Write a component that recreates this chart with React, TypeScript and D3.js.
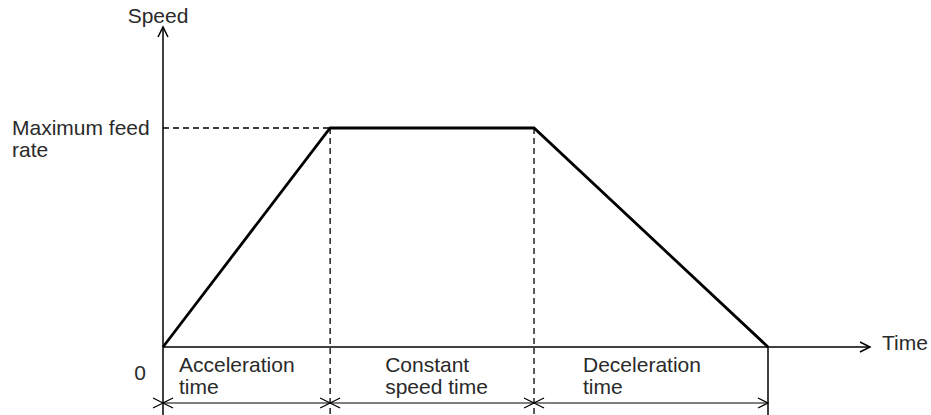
import React from "react";
import * as d3 from "d3";

// phases of the move (time units are relative)
const phaseNames = ["Acceleration", "Constant", "Deceleration"];
const phaseLabels = [
  ["Acceleration", "time"],
  ["Constant", "speed time"],
  ["Deceleration", "time"],
];
const phaseDurations = [1.0, 1.22, 1.4];

// speed at each phase boundary (1 = maximum feed rate)
const profileSpeeds = [0, 1, 1, 0];
const speedTickLabels = ["Maximum feed", "rate"];
const originLabel = "0";
const xAxisLabel = "Time";
const yAxisLabel = "Speed";

const W = 931, H = 415;
const ink = "#000";
const textColor = "#2a2a2a";
const font = "'Liberation Sans', Arial, Helvetica, sans-serif";
const fs = 21;

const App = () => {
  // cumulative times at the phase boundaries
  const times = [0, ...d3.cumsum(phaseDurations)];
  const totalTime = times[times.length - 1];

  const x = d3.scaleLinear().domain([0, totalTime]).range([163, 768]);
  const y = d3.scaleLinear().domain([0, 1]).range([347, 128]);

  const profile = times.map((t, i) => [t, profileSpeeds[i]] as [number, number]);
  const line = d3.line<[number, number]>()
    .x(d => x(d[0]))
    .y(d => y(d[1]));

  const x0 = x(0), y0 = y(0), yMax = y(1);
  const xAxisEnd = 870, yAxisTop = 27;
  const dimY = 403;
  const labelOffsets = [16, 55, 49];

  const chevron = (tx: number, ty: number, dir: "l" | "r" | "u") => {
    const a = 10, b = 5;
    if (dir === "r") return `M${tx - a},${ty - b}L${tx},${ty}L${tx - a},${ty + b}`;
    if (dir === "l") return `M${tx + a},${ty - b}L${tx},${ty}L${tx + a},${ty + b}`;
    return `M${tx - b},${ty + a}L${tx},${ty}L${tx + b},${ty + a}`;
  };

  return (
    <svg width={W} height={H} style={{ position: "absolute", left: 0, top: 0, background: "#fff" }}
      fontFamily={font} fontSize={fs} fill={textColor}>
      {/* axes */}
      <line x1={x0} y1={H} x2={x0} y2={yAxisTop} stroke={ink} strokeWidth={1.5} />
      <path d={chevron(x0, yAxisTop, "u")} fill="none" stroke={ink} strokeWidth={1.5} />
      <line x1={x0} y1={y0} x2={xAxisEnd} y2={y0} stroke={ink} strokeWidth={1.5} />
      <path d={chevron(xAxisEnd, y0, "r")} fill="none" stroke={ink} strokeWidth={1.5} />
      <text x={158} y={23} textAnchor="middle">{yAxisLabel}</text>
      <text x={882} y={350}>{xAxisLabel}</text>
      <text x={140} y={380} textAnchor="middle">{originLabel}</text>
      <text x={12} y={135}>{speedTickLabels[0]}</text>
      <text x={12} y={157}>{speedTickLabels[1]}</text>

      {/* dashed guides */}
      <line x1={x0} y1={yMax} x2={x(times[1])} y2={yMax} stroke={ink} strokeWidth={1.3} strokeDasharray="6,4" />
      {[times[1], times[2]].map((t, i) => (
        <line key={i} x1={x(t)} y1={yMax} x2={x(t)} y2={H} stroke={ink} strokeWidth={1.3} strokeDasharray="6,4" />
      ))}
      <line x1={x(totalTime)} y1={y0} x2={x(totalTime)} y2={H} stroke={ink} strokeWidth={1.5} />

      {/* speed profile */}
      <path d={line(profile) || ""} fill="none" stroke={ink} strokeWidth={2.8} strokeLinejoin="miter" />

      {/* dimension arrows */}
      <line x1={x0} y1={dimY} x2={x(totalTime)} y2={dimY} stroke={ink} strokeWidth={1.2} />
      {times.map((t, i) => (
        <g key={i} fill="none" stroke={ink} strokeWidth={1.2}>
          {i < times.length - 1 && <path d={chevron(x(t), dimY, "l")} />}
          <path d={chevron(x(t), dimY, "r")} />
        </g>
      ))}

      {/* phase labels */}
      {phaseNames.map((name, i) => (
        <text key={name}>
          <tspan x={x(times[i]) + labelOffsets[i]} y={372}>{phaseLabels[i][0]}</tspan>
          <tspan x={x(times[i]) + labelOffsets[i]} y={394}>{phaseLabels[i][1]}</tspan>
        </text>
      ))}
    </svg>
  );
};

export default App;
